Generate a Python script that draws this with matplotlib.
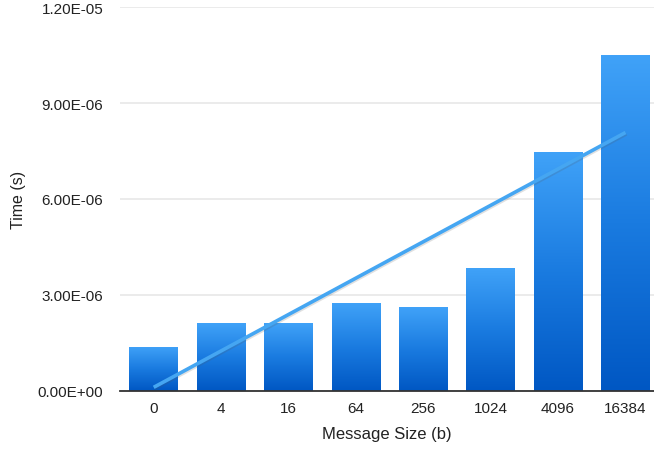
import numpy as np
import matplotlib
matplotlib.use("Agg")
import matplotlib.pyplot as plt
import matplotlib.patheffects as pe
from matplotlib.colors import LinearSegmentedColormap
from matplotlib.ticker import FuncFormatter

plt.rcParams['font.family'] = ['Liberation Sans', 'DejaVu Sans']

# message sizes (bytes) and measured time (s)
sizes = ["0", "4", "16", "64", "256", "1024", "4096", "16384"]
times = [1.38e-6, 2.12e-6, 2.12e-6, 2.74e-6, 2.62e-6, 3.83e-6, 7.46e-6, 10.5e-6]
yticks = [0, 3e-6, 6e-6, 9e-6, 12e-6]

fig = plt.figure(figsize=(6.54, 4.52), dpi=100)
ax = fig.add_axes([120 / 654, 60 / 452, 534 / 654, 384 / 452])

x = np.arange(len(sizes))
bars = ax.bar(x, times, width=0.72, color="none", edgecolor="none", zorder=2)

# vertical gradient inside every bar (light on top, dark at the bottom)
cmap = LinearSegmentedColormap.from_list("bluegrad", ["#0057c3", "#1a7be0", "#40a2f8"])
grad = np.linspace(0, 1, 256).reshape(-1, 1)
for b in bars:
    x0 = b.get_x()
    w = b.get_width()
    h = b.get_height()
    im = ax.imshow(grad, extent=[x0, x0 + w, 0, h], origin="lower",
                   aspect="auto", cmap=cmap, zorder=2)
    im.set_clip_path(b)

# linear trendline
k, c = np.polyfit(x, times, 1)
ax.plot(x, k * x + c, color="#45a6f2", linewidth=2.6, solid_capstyle="butt", zorder=3,
        path_effects=[pe.SimpleLineShadow(offset=(0.6, -1.0), shadow_color="#555555", alpha=0.18),
                      pe.Normal()])

ax.set_xlim(-0.5, 534 / 67.4 - 0.5)
ax.set_ylim(0, 12e-6)
ax.set_yticks(yticks)
ax.yaxis.set_major_formatter(FuncFormatter(lambda v, p: "%.2E" % v))
ax.set_xticks(x)
ax.set_xticklabels(sizes)

ax.grid(axis="y", color="#e8e8e8", linewidth=1.2, zorder=0)
ax.set_axisbelow(True)
for s in ["top", "right", "left"]:
    ax.spines[s].set_visible(False)
ax.spines["bottom"].set_color("#333333")
ax.spines["bottom"].set_linewidth(1.3)
ax.spines["bottom"].set_zorder(4)

ax.tick_params(axis="both", length=0, labelsize=11, colors="#222222")
ax.tick_params(axis="y", pad=12)
ax.tick_params(axis="x", pad=7)

ax.set_xlabel("Message Size (b)", fontsize=12, color="#222222", labelpad=8)
ax.set_ylabel("Time (s)", fontsize=11.5, color="#222222", labelpad=8.5)

fig.savefig("out.png", dpi=100)
